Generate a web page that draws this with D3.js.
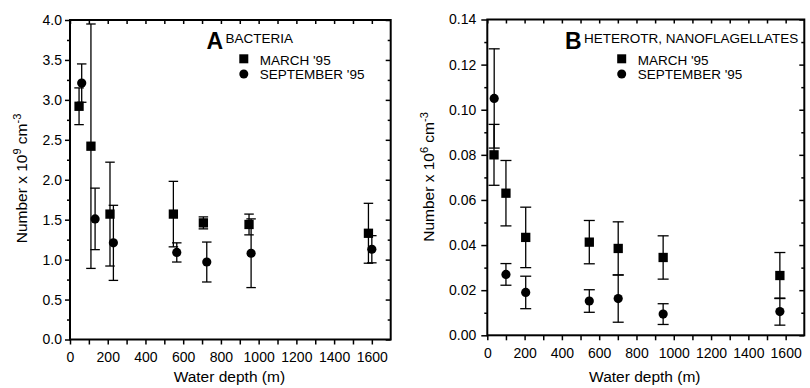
<!DOCTYPE html>
<html>
<head>
<meta charset="utf-8">
<script src="https://cdn.jsdelivr.net/npm/d3@7"></script>
<style>
  body { margin: 0; background: #fff; }
  text { font-family: "Liberation Sans", Arial, Helvetica, sans-serif; fill: #000; }
</style>
</head>
<body>
<svg id="chart" width="810" height="388"></svg>
<script>
// Panel A - bacteria (x 10^9 cm^-3)
const aMarchDepth = [48, 111, 212, 548, 707, 949, 1582];
const aMarchValue = [2.92, 2.42, 1.57, 1.57, 1.46, 1.44, 1.33];
const aMarchErr   = [0.23, 1.53, 0.65, 0.41, 0.075, 0.13, 0.375];
const aSeptDepth  = [62, 133, 230, 566, 725, 960, 1600];
const aSeptValue  = [3.21, 1.51, 1.21, 1.09, 0.97, 1.08, 1.13];
const aSeptErr    = [0.24, 0.385, 0.47, 0.12, 0.25, 0.43, 0.17];

// Panel B - heterotrophic nanoflagellates (x 10^6 cm^-3)
const bMarchDepth = [36, 100, 206, 547, 702, 943, 1569];
const bMarchValue = [0.080, 0.063, 0.0434, 0.0413, 0.0385, 0.0345, 0.0265];
const bMarchErr   = [0.0135, 0.0145, 0.0134, 0.0096, 0.0118, 0.0096, 0.0102];
const bSeptDepth  = [37, 100, 206, 547, 702, 943, 1569];
const bSeptValue  = [0.105, 0.027, 0.019, 0.0152, 0.0163, 0.0094, 0.0105];
const bSeptErr    = [0.022, 0.0048, 0.0072, 0.005, 0.0105, 0.0046, 0.006];

// tick labels
const xTickLabels = [0, 200, 400, 600, 800, 1000, 1200, 1400, 1600];
const aYTickLabels = [0.0, 0.5, 1.0, 1.5, 2.0, 2.5, 3.0, 3.5, 4.0];
const bYTickLabels = [0.00, 0.02, 0.04, 0.06, 0.08, 0.10, 0.12, 0.14];
const legendLabels = ["MARCH '95", "SEPTEMBER '95"];

const svg = d3.select("#chart");

function zip(depth, value, err) {
    return depth.map((d, i) => ({ depth: d, value: value[i], err: err[i] }));
}

function drawPanel(p) {
    const g = svg.append("g");
    const x = d3.scaleLinear().domain([0, 1700]).range([p.left, p.right]);
    const y = d3.scaleLinear().domain([0, p.yMax]).range([p.bottom, p.top]);
    const xMinor = d3.range(0, 1601, 100);

    // bottom axis, ticks outward
    g.append("g")
        .attr("transform", `translate(0, ${p.bottom})`)
        .call(d3.axisBottom(x).tickValues(xMinor).tickSize(5).tickPadding(8)
            .tickFormat(d => xTickLabels.includes(d) ? d : ""));
    // top axis, ticks inward
    g.append("g")
        .attr("transform", `translate(0, ${p.top})`)
        .call(d3.axisTop(x).tickValues(xMinor).tickSize(-4).tickFormat(""));
    // left axis
    g.append("g")
        .attr("transform", `translate(${p.left}, 0)`)
        .call(d3.axisLeft(y).tickValues(p.yTicks).tickSize(p.tickLen).tickPadding(p.tickPad)
            .tickFormat(d3.format(p.fmt)));
    g.append("g")
        .attr("transform", `translate(${p.left}, 0)`)
        .call(d3.axisLeft(y).tickValues(p.yMinor).tickSize(3).tickFormat(""));
    // right axis, ticks inward
    g.append("g")
        .attr("transform", `translate(${p.right}, 0)`)
        .call(d3.axisRight(y).tickValues(p.yTicks).tickSize(-5).tickFormat(""));
    g.append("g")
        .attr("transform", `translate(${p.right}, 0)`)
        .call(d3.axisRight(y).tickValues(p.yMinor).tickSize(-3).tickFormat(""));

    g.selectAll(".domain").remove();
    g.selectAll(".tick line").attr("stroke", "#000").attr("stroke-width", 1.5);
    g.selectAll(".tick text").style("font-size", "14px").attr("fill", "#000");

    g.append("rect")
        .attr("x", p.left).attr("y", p.top)
        .attr("width", p.right - p.left).attr("height", p.bottom - p.top)
        .attr("fill", "none").attr("stroke", "#000").attr("stroke-width", 2);

    // error bars
    const allData = p.march.concat(p.sept);
    const bars = g.selectAll(".err").data(allData).enter().append("g").attr("class", "err")
        .attr("stroke", "#000").attr("stroke-width", 1.3);
    bars.append("line")
        .attr("x1", d => x(d.depth)).attr("x2", d => x(d.depth))
        .attr("y1", d => y(d.value - d.err)).attr("y2", d => y(Math.min(d.value + d.err, p.yMax)));
    bars.append("line")
        .attr("x1", d => x(d.depth) - p.cap / 2).attr("x2", d => x(d.depth) + p.cap / 2)
        .attr("y1", d => y(d.value - d.err)).attr("y2", d => y(d.value - d.err));
    bars.filter(d => d.value + d.err <= p.yMax).append("line")
        .attr("x1", d => x(d.depth) - p.cap / 2).attr("x2", d => x(d.depth) + p.cap / 2)
        .attr("y1", d => y(d.value + d.err)).attr("y2", d => y(d.value + d.err));

    // markers
    const sq = 9.3;
    g.selectAll(".sq").data(p.march).enter().append("rect").attr("class", "sq")
        .attr("x", d => x(d.depth) - sq / 2).attr("y", d => y(d.value) - sq / 2)
        .attr("width", sq).attr("height", sq).attr("fill", "#000");
    g.selectAll(".dot").data(p.sept).enter().append("circle").attr("class", "dot")
        .attr("cx", d => x(d.depth)).attr("cy", d => y(d.value))
        .attr("r", 4.6).attr("fill", "#000");

    // panel letter and title
    g.append("text").attr("x", p.letterX).attr("y", 49)
        .style("font-size", "23px").style("font-weight", "bold").text(p.letter);
    g.append("text").attr("x", p.letterX + 19).attr("y", 43)
        .style("font-size", "13.5px").text(p.title);

    // legend
    g.append("rect").attr("x", p.legX - 4.5).attr("y", 54.3).attr("width", 9).attr("height", 9).attr("fill", "#000");
    g.append("circle").attr("cx", p.legX).attr("cy", 74).attr("r", 4.5).attr("fill", "#000");
    g.selectAll(".leg").data(legendLabels).enter().append("text").attr("class", "leg")
        .attr("x", p.legX + 16).attr("y", (d, i) => 65 + i * 14.3)
        .style("font-size", "13.5px").text(d => d);

    // axis titles
    g.append("text")
        .attr("x", (p.left + p.right) / 2 - 1).attr("y", 382)
        .attr("text-anchor", "middle").style("font-size", "15.5px")
        .text("Water depth (m)");
    const yt = g.append("text")
        .attr("transform", `translate(${p.yTitleX}, ${p.yTitleY}) rotate(-90)`)
        .attr("text-anchor", "middle").style("font-size", "15.5px");
    yt.append("tspan").text("Number x 10");
    yt.append("tspan").attr("dy", -6).style("font-size", "11px").text(p.exp);
    yt.append("tspan").attr("dy", 6).text(" cm");
    yt.append("tspan").attr("dy", -6).style("font-size", "11px").text("-3");
}

drawPanel({
    left: 70, right: 390.7, top: 20, bottom: 339.5,
    yMax: 4.0, yTicks: aYTickLabels, yMinor: d3.range(0.25, 4, 0.5), fmt: ".1f",
    tickLen: 5, tickPad: 3, cap: 9.5,
    march: zip(aMarchDepth, aMarchValue, aMarchErr),
    sept: zip(aSeptDepth, aSeptValue, aSeptErr),
    letter: "A", letterX: 206.5, title: "BACTERIA", legX: 243.8,
    yTitleX: 26.5, yTitleY: 178.5, exp: "9"
});

drawPanel({
    left: 487.3, right: 804.3, top: 19.5, bottom: 335.3,
    yMax: 0.14, yTicks: bYTickLabels, yMinor: d3.range(0.01, 0.14, 0.02), fmt: ".2f",
    tickLen: 6, tickPad: 5, cap: 11,
    march: zip(bMarchDepth, bMarchValue, bMarchErr),
    sept: zip(bSeptDepth, bSeptValue, bSeptErr),
    letter: "B", letterX: 565, title: "HETEROTR, NANOFLAGELLATES", legX: 621.7,
    yTitleX: 433.5, yTitleY: 177, exp: "6"
});
</script>
</body>
</html>
